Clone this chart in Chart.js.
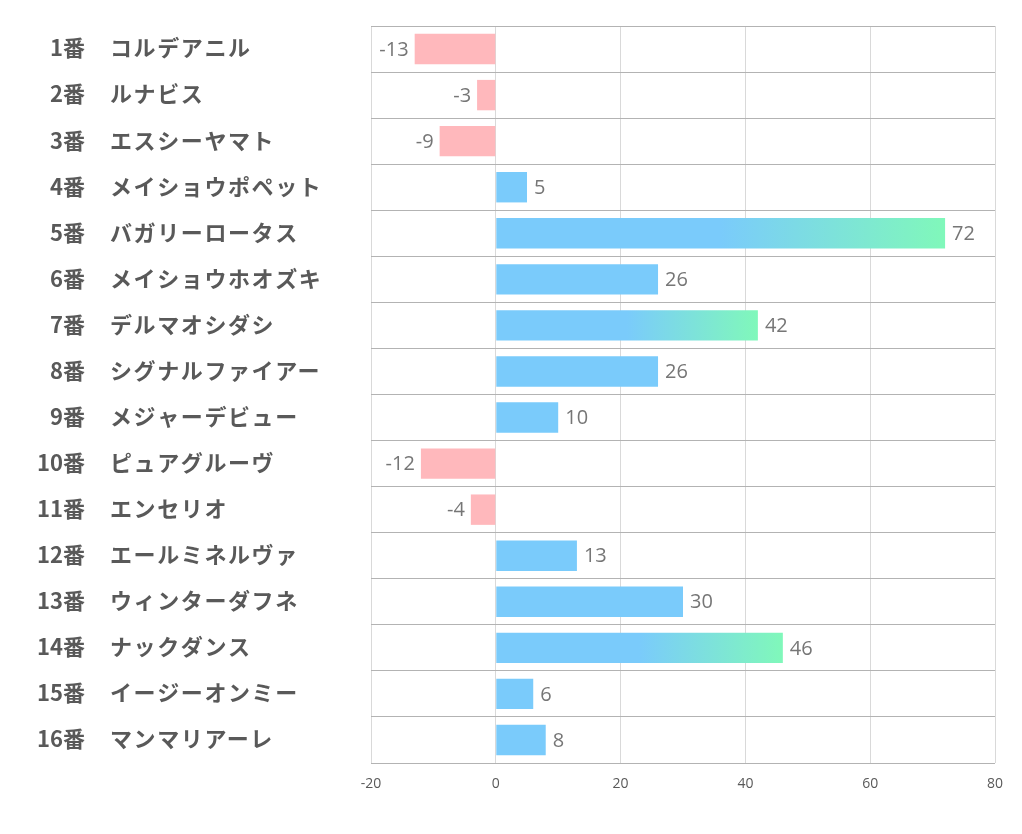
<!DOCTYPE html>
<html>
<head>
<meta charset="utf-8">
<script src="https://cdn.jsdelivr.net/npm/chart.js@4"></script>
<style>
  html, body { margin: 0; padding: 0; background: #fff; }
  #wrap { width: 1022px; height: 834px; }
</style>
</head>
<body>
<div id="wrap"><canvas id="chart"></canvas></div>
<script>
const numbers = ['1番', '2番', '3番', '4番', '5番', '6番', '7番', '8番', '9番', '10番', '11番', '12番', '13番', '14番', '15番', '16番'];
const horseNames = ['コルデアニル', 'ルナビス', 'エスシーヤマト', 'メイショウポペット', 'バガリーロータス', 'メイショウホオズキ', 'デルマオシダシ', 'シグナルファイアー', 'メジャーデビュー', 'ピュアグルーヴ', 'エンセリオ', 'エールミネルヴァ', 'ウィンターダフネ', 'ナックダンス', 'イージーオンミー', 'マンマリアーレ'];
const scores = [-13, -3, -9, 5, 72, 26, 42, 26, 10, -12, -4, 13, 30, 46, 6, 8];
const xTicks = [-20, 0, 20, 40, 60, 80];

const BLUE = '#7acbfb';
const GREEN = '#80f8ba';
const PINK = '#ffb8bc';

function barColor(context) {
    const value = context.raw;
    if (value < 0) return PINK;
    if (value < 40) return BLUE;
    const chart = context.chart;
    const xScale = chart.scales.x;
    if (!xScale || !chart.chartArea) return BLUE;
    const x0 = xScale.getPixelForValue(value * 0.5);
    const x1 = xScale.getPixelForValue(value);
    const gradient = chart.ctx.createLinearGradient(x0, 0, x1, 0);
    gradient.addColorStop(0, BLUE);
    gradient.addColorStop(1, GREEN);
    return gradient;
}

const labelPlugin = {
    id: 'rowLabels',
    afterDraw(chart) {
        const ctx = chart.ctx;
        const yScale = chart.scales.y;
        ctx.save();
        ctx.fillStyle = '#595959';
        ctx.font = 'bold 22px "Noto Sans CJK JP"';
        ctx.textBaseline = 'middle';
        numbers.forEach((num, i) => {
            const y = yScale.getPixelForValue(i) - 1;
            ctx.letterSpacing = '0px';
            ctx.textAlign = 'right';
            ctx.fillText(num, 85, y);
            ctx.letterSpacing = '1.6px';
            ctx.textAlign = 'left';
            ctx.fillText(horseNames[i], 110, y);
        });
        ctx.restore();
    }
};

const valuePlugin = {
    id: 'valueLabels',
    afterDatasetsDraw(chart) {
        const ctx = chart.ctx;
        const meta = chart.getDatasetMeta(0);
        ctx.save();
        ctx.fillStyle = '#767676';
        ctx.font = '20px "Open Sans"';
        ctx.textBaseline = 'middle';
        meta.data.forEach((bar, i) => {
            const value = scores[i];
            if (value < 0) {
                ctx.textAlign = 'right';
                ctx.fillText(String(value), bar.x - 6, bar.y + 1);
            } else {
                ctx.textAlign = 'left';
                ctx.fillText(String(value), bar.x + 7, bar.y + 1);
            }
        });
        ctx.restore();
    }
};

new Chart(document.getElementById('chart'), {
    type: 'bar',
    data: {
        labels: numbers.map((n, i) => n + ' ' + horseNames[i]),
        datasets: [{
            data: scores,
            backgroundColor: barColor,
            borderWidth: 0,
            categoryPercentage: 1,
            barPercentage: 0.66
        }]
    },
    options: {
        indexAxis: 'y',
        responsive: true,
        maintainAspectRatio: false,
        animation: false,
        layout: {
            padding: {left: 371, right: 27, top: 26, bottom: 31}
        },
        plugins: {
            legend: {display: false},
            tooltip: {enabled: false}
        },
        scales: {
            x: {
                min: -20,
                max: 80,
                afterBuildTicks(scale) {
                    scale.ticks = xTicks.map(v => ({value: v}));
                },
                afterFit(scale) {
                    scale.height = 40;
                },
                grid: {
                    color: '#d9d9d9',
                    lineWidth: 1,
                    drawTicks: false
                },
                border: {display: false},
                ticks: {
                    color: '#595959',
                    font: {family: '"Open Sans"', size: 14},
                    padding: 13
                }
            },
            y: {
                afterFit(scale) {
                    scale.width = 0;
                },
                grid: {
                    offset: true,
                    color: '#b3b3b3',
                    lineWidth: 1,
                    drawTicks: false
                },
                border: {display: false},
                ticks: {display: false}
            }
        }
    },
    plugins: [labelPlugin, valuePlugin]
});
</script>
</body>
</html>
